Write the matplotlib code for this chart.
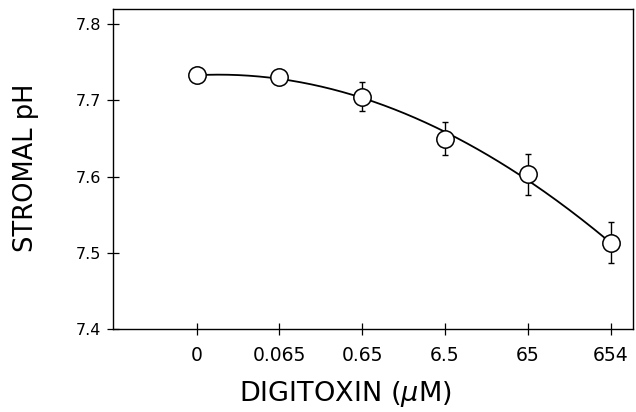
import matplotlib
matplotlib.use("Agg")
import matplotlib.pyplot as plt
import numpy as np

# digitoxin concentrations (uM), shown as evenly spaced categories
doses = ["0", "0.065", "0.65", "6.5", "65", "654"]
stromal_ph = [7.733, 7.731, 7.705, 7.650, 7.603, 7.513]
ph_err = [0.0, 0.0, 0.019, 0.022, 0.027, 0.027]

plt.rcParams['font.family'] = ['DejaVu Sans']

fig = plt.figure(figsize=(6.36, 4.12), dpi=100)
ax = fig.add_axes([113 / 636, 1 - 329 / 412, 520 / 636, 320 / 412])

x = np.arange(len(doses))

# smooth fitted curve, ends pinned a bit harder
coef = np.polyfit(x, stromal_ph, 3, w=[4, 1, 1, 1, 1, 4])
xs = np.linspace(x[0], x[-1], 200)
ax.plot(xs, np.polyval(coef, xs), color='black', lw=1.3, zorder=2)

ax.errorbar(x, stromal_ph, yerr=ph_err, fmt='none', ecolor='black',
            elinewidth=1.0, capsize=2.5, capthick=1.0, zorder=1)
ax.plot(x, stromal_ph, 'o', ms=12.5, mfc='white', mec='black', mew=1.1, zorder=3)

ax.set_xlim(-1.01, 5.27)
ax.set_ylim(7.4, 7.82)
ax.set_xticks(x)
ax.set_xticklabels(doses, fontsize=13.5)
ax.set_yticks([7.4, 7.5, 7.6, 7.7, 7.8])
ax.set_yticklabels(['7.4', '7.5', '7.6', '7.7', '7.8'], fontsize=11.5)
ax.tick_params(axis='both', direction='inout', length=9, width=0.9)
ax.tick_params(axis='x', pad=8)
ax.tick_params(axis='y', pad=4)

for s in ax.spines.values():
    s.set_linewidth(1.0)

ax.set_xlabel('DIGITOXIN ($\\mu$M)', fontsize=19.5)
ax.xaxis.set_label_coords(232 / 520, -50 / 320)
ax.xaxis.label.set_va('top')
ax.set_ylabel('STROMAL pH', fontsize=18.5)
ax.yaxis.set_label_coords(-74 / 520, (329 - 168) / 320)

fig.savefig('out.png', dpi=100)
